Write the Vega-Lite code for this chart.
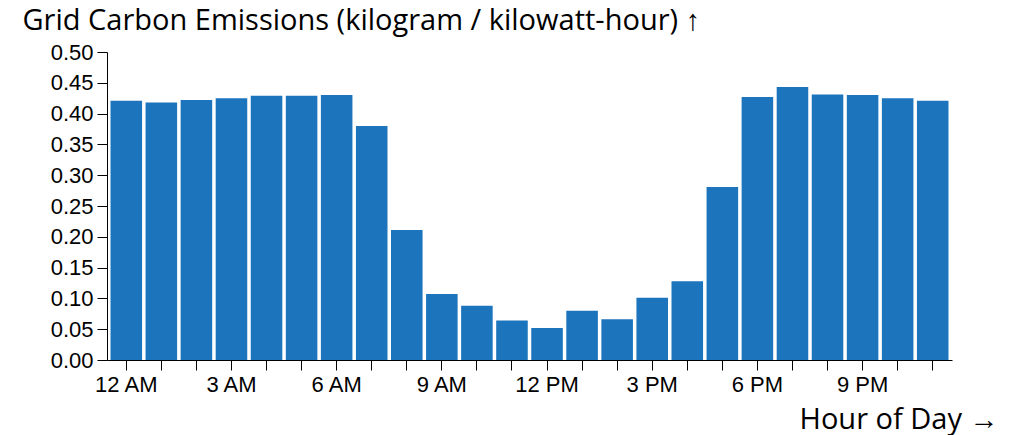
{
  "$schema": "https://vega.github.io/schema/vega-lite/v6.json",
  "autosize": {"type": "none"},
  "width": 845,
  "height": 308,
  "padding": {"left": 107, "top": 52, "right": 68, "bottom": 75},
  "background": "white",
  "config": {
    "view": {"stroke": null},
    "axis": {
      "domainColor": "black",
      "tickColor": "black",
      "labelColor": "black",
      "titleColor": "black",
      "grid": false,
      "labelFont": "Liberation Sans",
      "labelFontSize": 22,
      "titleFont": "Open Sans",
      "titleFontSize": 29,
      "titleFontWeight": "normal",
      "tickSize": 10
    }
  },
  "data": {
    "values": [
      {"hour": 0, "emissions": 0.421},
      {"hour": 1, "emissions": 0.418},
      {"hour": 2, "emissions": 0.422},
      {"hour": 3, "emissions": 0.425},
      {"hour": 4, "emissions": 0.429},
      {"hour": 5, "emissions": 0.429},
      {"hour": 6, "emissions": 0.430},
      {"hour": 7, "emissions": 0.380},
      {"hour": 8, "emissions": 0.211},
      {"hour": 9, "emissions": 0.107},
      {"hour": 10, "emissions": 0.088},
      {"hour": 11, "emissions": 0.064},
      {"hour": 12, "emissions": 0.052},
      {"hour": 13, "emissions": 0.080},
      {"hour": 14, "emissions": 0.066},
      {"hour": 15, "emissions": 0.101},
      {"hour": 16, "emissions": 0.128},
      {"hour": 17, "emissions": 0.281},
      {"hour": 18, "emissions": 0.427},
      {"hour": 19, "emissions": 0.443},
      {"hour": 20, "emissions": 0.431},
      {"hour": 21, "emissions": 0.430},
      {"hour": 22, "emissions": 0.425},
      {"hour": 23, "emissions": 0.421}
    ]
  },
  "mark": {"type": "bar", "color": "#1c75bc"},
  "encoding": {
    "x": {
      "field": "hour",
      "type": "ordinal",
      "sort": "ascending",
      "scale": {"paddingInner": 0.1, "paddingOuter": 0.1},
      "axis": {
        "labelAngle": 0,
        "labelPadding": 4,
        "labelExpr": "datum.value % 3 == 0 ? ((datum.value % 12 == 0 ? 12 : datum.value % 12) + (datum.value < 12 ? ' AM' : ' PM')) : ''",
        "title": "Hour of Day →",
        "titleAnchor": null,
        "titleAlign": "right",
        "titleBaseline": "alphabetic",
        "titleX": 891,
        "titleY": 68
      }
    },
    "y": {
      "field": "emissions",
      "type": "quantitative",
      "scale": {"domain": [0, 0.5], "nice": false},
      "axis": {
        "values": [0, 0.05, 0.1, 0.15, 0.2, 0.25, 0.3, 0.35, 0.4, 0.45, 0.5],
        "format": ".2f",
        "labelPadding": 4,
        "title": "Grid Carbon Emissions (kilogram / kilowatt-hour) ↑",
        "titleAngle": 0,
        "titleAlign": "left",
        "titleBaseline": "alphabetic",
        "titleAnchor": null,
        "titleX": -85,
        "titleY": -23
      }
    }
  }
}
